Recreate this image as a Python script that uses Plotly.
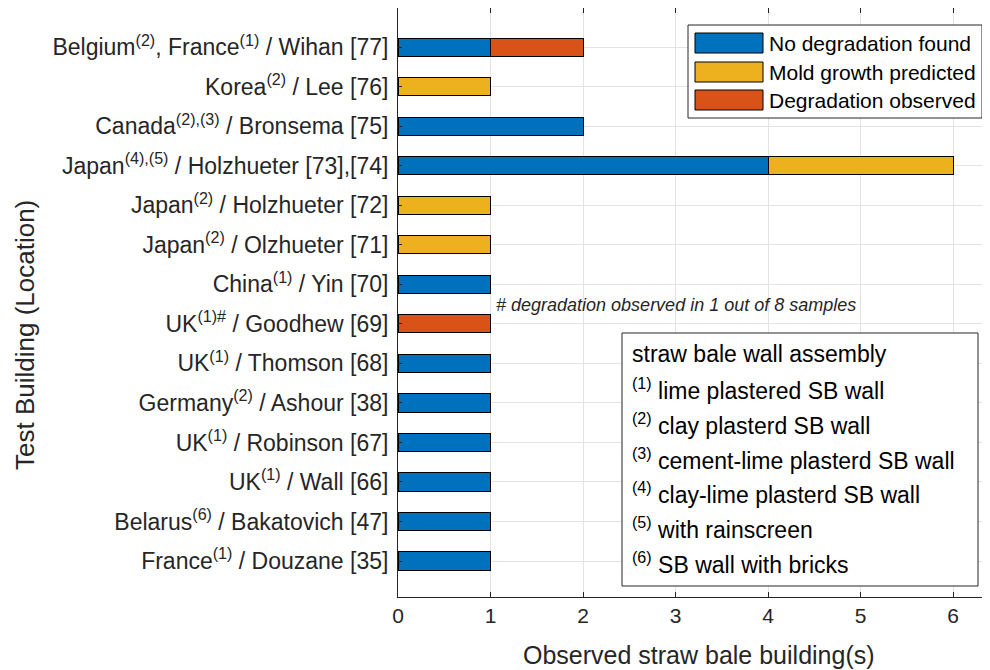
import plotly.graph_objects as go

# ---------------- data ----------------
labels = [
    "Belgium<sup>(2)</sup>, France<sup>(1)</sup> / Wihan [77]",
    "Korea<sup>(2)</sup> / Lee [76]",
    "Canada<sup>(2),(3)</sup> / Bronsema [75]",
    "Japan<sup>(4),(5)</sup> / Holzhueter [73],[74]",
    "Japan<sup>(2)</sup> / Holzhueter [72]",
    "Japan<sup>(2)</sup> / Olzhueter [71]",
    "China<sup>(1)</sup> / Yin [70]",
    "UK<sup>(1)#</sup> / Goodhew [69]",
    "UK<sup>(1)</sup> / Thomson [68]",
    "Germany<sup>(2)</sup> / Ashour [38]",
    "UK<sup>(1)</sup> / Robinson [67]",
    "UK<sup>(1)</sup> / Wall [66]",
    "Belarus<sup>(6)</sup> / Bakatovich [47]",
    "France<sup>(1)</sup> / Douzane [35]",
]
no_degradation = [1, 0, 2, 4, 0, 0, 1, 0, 1, 1, 1, 1, 1, 1]
mold_predicted = [0, 1, 0, 2, 1, 1, 0, 0, 0, 0, 0, 0, 0, 0]
degradation_obs = [1, 0, 0, 0, 0, 0, 0, 1, 0, 0, 0, 0, 0, 0]

series_names = ["No degradation found", "Mold growth predicted", "Degradation observed"]
series_colors = ["#0072BD", "#EDB120", "#D95319"]
x_ticks = [0, 1, 2, 3, 4, 5, 6]

note_text = "# degradation observed in 1 out of 8 samples"
box_title = "straw bale wall assembly"
box_lines = [
    ("(1)", "lime plastered SB wall"),
    ("(2)", "clay plasterd SB wall"),
    ("(3)", "cement-lime plasterd SB wall"),
    ("(4)", "clay-lime plasterd SB wall"),
    ("(5)", "with rainscreen"),
    ("(6)", "SB wall with bricks"),
]

# ---------------- layout helpers ----------------
OFF = 8  # page body margin
W, H = 990 - OFF, 670 - OFF
L, R, T, B = 398 - OFF, 0, 0, 670 - 597
FONT = "Liberation Sans, Arial, Helvetica, sans-serif"
TXT = "#262626"


def px(xp):
    return (xp - OFF - L) / (W - L - R)


def py(yp):
    return (H - B - (yp - OFF)) / (H - T - B)


pos = list(range(len(labels)))

fig = go.Figure()
for name, color, vals in zip(series_names, series_colors,
                             [no_degradation, mold_predicted, degradation_obs]):
    fig.add_trace(go.Bar(
        y=pos, x=[v if v else None for v in vals], orientation="h",
        name=name, width=0.46,
        marker=dict(color=color, line=dict(color="black", width=1)),
        showlegend=False,
    ))

fig.update_layout(
    width=W, height=H,
    margin=dict(l=L, r=R, t=T, b=B, autoexpand=False),
    barmode="stack",
    plot_bgcolor="white", paper_bgcolor="white",
    font=dict(family=FONT, color=TXT, size=20),
    xaxis=dict(
        range=[0, 6.4], tickvals=x_ticks, ticks="inside", ticklen=5,
        tickcolor="#262626", showline=True, linecolor="#262626", linewidth=1,
        mirror="ticks", showgrid=True, gridcolor="#e3e3e3", gridwidth=1,
        zeroline=False, tickfont=dict(size=21),
    ),
    yaxis=dict(
        range=[13.91, -0.99], tickvals=pos, ticktext=labels, ticks="inside",
        ticklen=4, tickcolor="#262626", showline=True, linecolor="#262626",
        linewidth=1, showgrid=True, gridcolor="#e3e3e3", gridwidth=1,
        zeroline=False, tickfont=dict(size=23), ticklabelstandoff=4,
        automargin=False,
    ),
)

# axis titles
fig.add_annotation(text="Test Building (Location)", xref="paper", yref="paper",
                   x=px(25), y=py(335), textangle=-90, showarrow=False,
                   font=dict(size=26, color=TXT), xanchor="center", yanchor="middle")
fig.add_annotation(text="Observed straw bale building(s)", xref="paper", yref="paper",
                   x=px(699), y=py(655), showarrow=False,
                   font=dict(size=25, color=TXT), xanchor="center", yanchor="middle")

# note
fig.add_annotation(text="<i>" + note_text + "</i>", xref="x", yref="y",
                   x=1, y=7, xanchor="left", yanchor="middle", xshift=3, yshift=19,
                   showarrow=False, font=dict(size=18, color=TXT))

# custom legend
fig.add_shape(type="rect", xref="paper", yref="paper",
              x0=px(688), x1=px(982), y0=py(118), y1=py(25),
              line=dict(color="#262626", width=1), fillcolor="white", layer="above")
leg_rows = [43, 72, 100]
for yy, name, color in zip(leg_rows, series_names, series_colors):
    fig.add_shape(type="rect", xref="paper", yref="paper",
                  x0=px(695), x1=px(763), y0=py(yy + 10), y1=py(yy - 10),
                  line=dict(color="black", width=1), fillcolor=color, layer="above")
    fig.add_annotation(text=name, xref="paper", yref="paper", x=px(767), y=py(yy),
                       xanchor="left", yanchor="middle", showarrow=False,
                       font=dict(size=21, color="black"))

# assembly text box
fig.add_shape(type="rect", xref="paper", yref="paper",
              x0=px(622), x1=px(978), y0=py(586), y1=py(333),
              line=dict(color="#262626", width=1), fillcolor="white", layer="above")
fig.add_annotation(text=box_title, xref="paper", yref="paper", x=px(630), y=py(354),
                   xanchor="left", yanchor="middle", showarrow=False,
                   font=dict(size=23, color="black"))
for i, (sup, txt) in enumerate(box_lines):
    fig.add_annotation(text="<sup>" + sup + "</sup> " + txt, xref="paper", yref="paper",
                       x=px(630), y=py(389 + 34.8 * i), xanchor="left", yanchor="middle",
                       showarrow=False, font=dict(size=23, color="black"))

fig.write_html("out.html")
